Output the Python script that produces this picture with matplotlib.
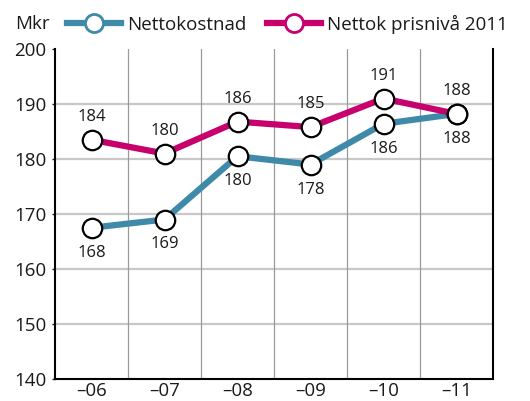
import matplotlib
matplotlib.use("Agg")
import matplotlib.pyplot as plt
import numpy as np
from matplotlib.lines import Line2D

categories = ["\u201306", "\u201307", "\u201308", "\u201309", "\u201310", "\u201311"]
netto = [167.5, 169.0, 180.5, 179.0, 186.4, 188.2]
netto_labels = ["168", "169", "180", "178", "186", "188"]
pris = [183.5, 181.0, 186.8, 185.8, 191.0, 188.2]
pris_labels = ["184", "180", "186", "185", "191", "188"]
yticks = [140, 150, 160, 170, 180, 190, 200]

blue = "#3f8aa8"
pink = "#c8006e"

plt.rcParams['font.family'] = ['Open Sans', 'DejaVu Sans']

fig = plt.figure(figsize=(5.30, 4.01), dpi=100)
ax = fig.add_axes([55/530, 1-379/401, 438/530, 330/401])

x = np.arange(len(categories))
ax.set_xlim(-0.5, len(categories)-0.5)
ax.set_ylim(140, 200)

for yv in yticks[1:-1]:
    ax.axhline(yv, color="#c8c8c8", lw=1.6, zorder=1)
for xv in np.arange(0.5, len(categories)-0.5, 1):
    ax.axvline(xv, color="#9a9a9a", lw=0.9, zorder=1)

ax.plot(x, netto, color=blue, lw=4.5, solid_capstyle='butt', zorder=3)
ax.plot(x, pris, color=pink, lw=4.5, solid_capstyle='butt', zorder=3)
ax.plot(x, netto, 'o', ms=14, mfc='white', mec='black', mew=1.6, zorder=4)
ax.plot(x, pris, 'o', ms=14, mfc='white', mec='black', mew=1.6, zorder=5)

for xi, v, lab in zip(x, netto, netto_labels):
    ax.annotate(lab, (xi, v), xytext=(0, -18), textcoords='offset points',
                ha='center', va='center', fontsize=12, color='#1a1a1a', zorder=6)
for xi, v, lab in zip(x, pris, pris_labels):
    ax.annotate(lab, (xi, v), xytext=(0, 16.5), textcoords='offset points',
                ha='center', va='center', fontsize=12, color='#1a1a1a', zorder=6)

ax.set_xticks(x)
ax.set_xticklabels(categories, fontsize=13.5)
ax.set_yticks(yticks)
ax.set_yticklabels([str(t) for t in yticks], fontsize=13.5)
ax.tick_params(axis='x', length=0, pad=2, colors='#1a1a1a')
ax.tick_params(axis='y', length=2, pad=4, colors='#1a1a1a', width=1)

ax.spines['top'].set_visible(False)
for s in ['left', 'right', 'bottom']:
    ax.spines[s].set_linewidth(1.5)
    ax.spines[s].set_color('black')

fig.text(15/530, 1-24/401, "Mkr", fontsize=13.5, va='center', ha='left', color='#1a1a1a')

h1 = Line2D([], [], color=blue, lw=4.5, marker='o', ms=13, mfc='white', mec=blue, mew=2)
h2 = Line2D([], [], color=pink, lw=4.5, marker='o', ms=13, mfc='white', mec=pink, mew=2)
leg = fig.legend([h1, h2], ["Nettokostnad", "Nettok prisnivå 2011"], ncol=2,
                 loc='center left', bbox_to_anchor=(67/530, 1-24/401), frameon=False,
                 fontsize=13.5, handlelength=2.9, handletextpad=0.3, columnspacing=1.1,
                 borderpad=0, borderaxespad=0)
for t in leg.get_texts():
    t.set_color('#1a1a1a')

fig.savefig("out.png", dpi=100)
